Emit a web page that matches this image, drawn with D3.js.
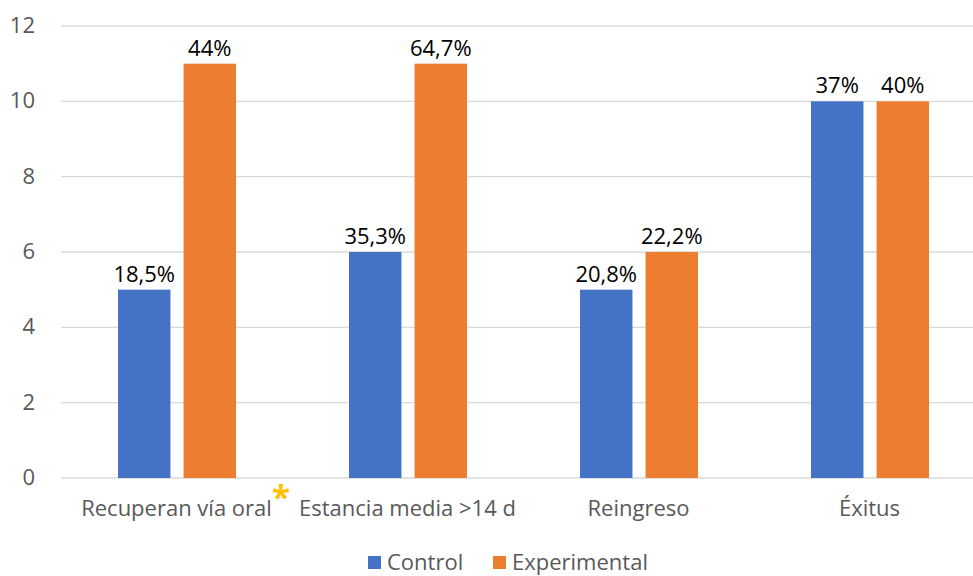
<!DOCTYPE html>
<html><head><meta charset="utf-8">
<script src="https://cdn.jsdelivr.net/npm/d3@7"></script>
<style>body{margin:0;background:#fff}svg{display:block}text{font-family:"Open Sans","Liberation Sans",sans-serif}</style>
</head><body><svg id="c" width="973" height="576"></svg>
<script>
const categories = ["Recuperan vía oral","Estancia media >14 d","Reingreso","Éxitus"];
const seriesNames = ["Control","Experimental"];
const controlValues = [5,6,5,10];
const experimentalValues = [11,11,6,10];
const controlLabels = ["18,5%","35,3%","20,8%","37%"];
const experimentalLabels = ["44%","64,7%","22,2%","40%"];
const yTicks = [0,2,4,6,8,10,12];
const colors = ["#4472C4","#ED7D31"];

const svg = d3.select("#c");
const x = d3.scaleBand().domain(categories).range([61,985]).paddingInner(0).paddingOuter(0);
const y = d3.scaleLinear().domain([0,12]).range([478,26]);
const x1 = d3.scaleBand().domain(seriesNames).range([57,175]).paddingInner(0.2);

// grid
svg.append("g").selectAll("line").data(yTicks).join("line")
  .attr("x1",61).attr("x2",973).attr("y1",d=>y(d)).attr("y2",d=>y(d))
  .attr("stroke","#D9D9D9").attr("stroke-width",1.3);
svg.append("g").selectAll("text").data(yTicks).join("text")
  .attr("x",35).attr("y",d=>y(d)+7).attr("text-anchor","end")
  .attr("fill","#595959").attr("font-size",22).text(d=>d);

const data = categories.map((c,i)=>({c, vals:[
  {s:seriesNames[0], v:controlValues[i], l:controlLabels[i]},
  {s:seriesNames[1], v:experimentalValues[i], l:experimentalLabels[i]}]}));

const g = svg.append("g").selectAll("g").data(data).join("g")
  .attr("transform",d=>`translate(${x(d.c)},0)`);
g.selectAll("rect").data(d=>d.vals).join("rect")
  .attr("x",d=>x1(d.s)).attr("width",x1.bandwidth())
  .attr("y",d=>y(d.v)).attr("height",d=>y(0)-y(d.v))
  .attr("fill",(d,i)=>colors[i]);
g.selectAll("text").data(d=>d.vals).join("text")
  .attr("x",d=>x1(d.s)+x1.bandwidth()/2).attr("y",d=>y(d.v)-8)
  .attr("text-anchor","middle").attr("font-size",22).attr("fill","#000").text(d=>d.l);

svg.append("g").selectAll("text").data(categories).join("text")
  .attr("x",d=>x(d)+x.bandwidth()/2).attr("y",516).attr("text-anchor","middle")
  .attr("fill","#595959").attr("font-size",22).text(d=>d);

svg.append("text").attr("x",281).attr("y",509).attr("text-anchor","middle")
  .attr("font-size",33).attr("fill","#FFC000").attr("font-weight","bold").text("*");

// legend
const leg = [{n:"Control",x:368},{n:"Experimental",x:493}];
leg.forEach((d,i)=>{
  svg.append("rect").attr("x",d.x).attr("y",556).attr("width",13).attr("height",13).attr("fill",colors[i]);
  svg.append("text").attr("x",d.x+19).attr("y",570).attr("fill","#595959").attr("font-size",22).text(d.n);
});
</script></body></html>
